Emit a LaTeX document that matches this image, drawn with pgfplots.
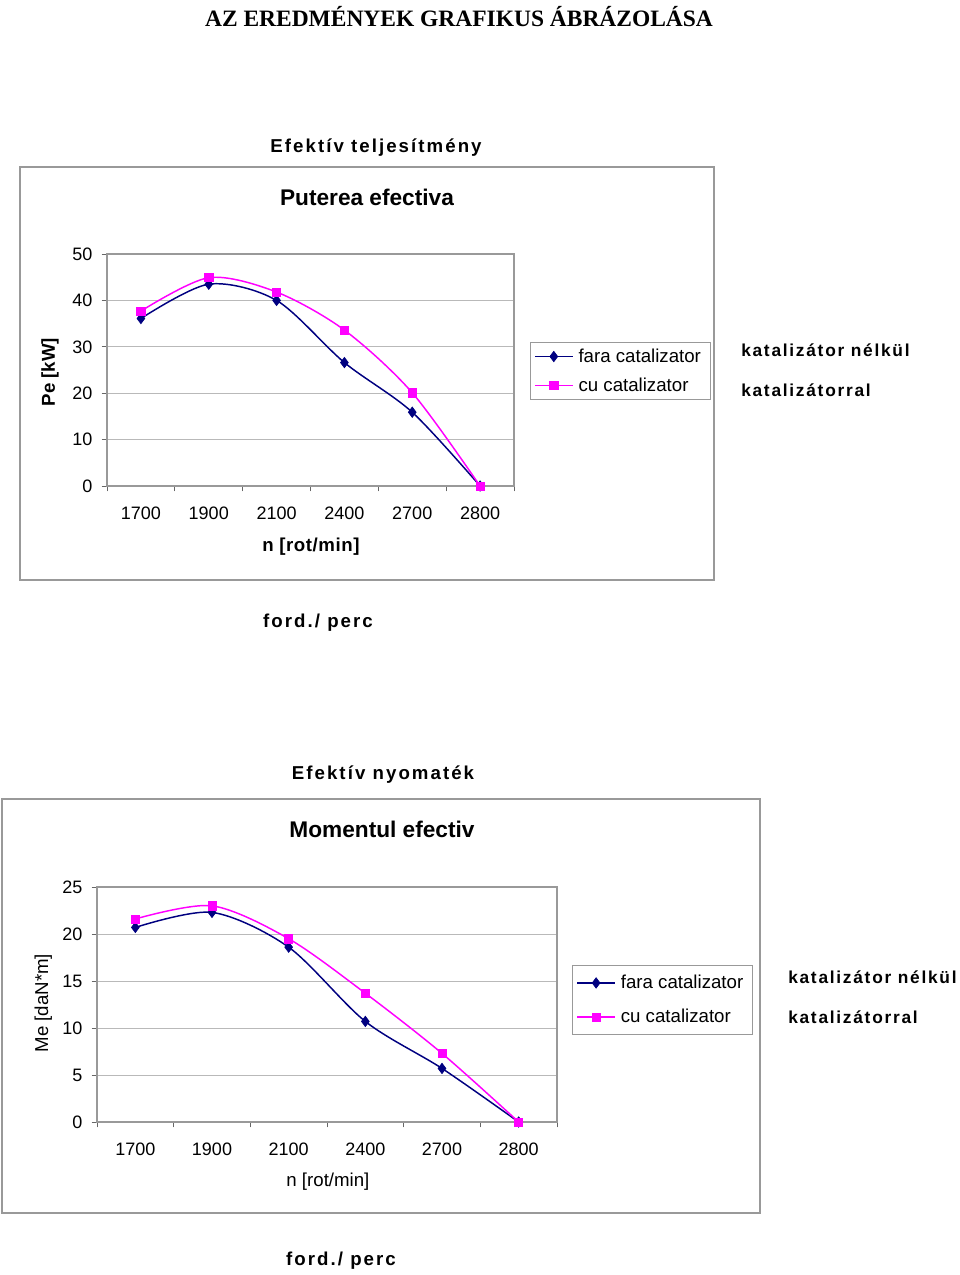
\documentclass[border=0pt]{standalone}
\usepackage{fontspec}
\setmainfont{Liberation Sans}
\newfontfamily\serif{Liberation Serif}
\newfontfamily\spaced[LetterSpace=11]{Liberation Sans}
\newfontfamily\spacedk[LetterSpace=10]{Liberation Sans}
\newfontfamily\spacedl[LetterSpace=3]{Liberation Sans}
\usepackage{pgfplots}
\pgfplotsset{compat=1.18}
\definecolor{navy}{HTML}{000080}
\definecolor{mag}{HTML}{FF00FF}
\pgfplotsset{
  mychart/.style={
    scale only axis,
    xmin=0.5, xmax=6.5, ymin=0,
    xtick={1,...,6},
    xticklabels={1700,1900,2100,2400,2700,2800},
    minor xtick={0.5,1.5,...,6.5},
    major x tick style={draw=none},
    xtick pos=bottom, ytick pos=left,
    tick align=outside,
    major tick length=4pt, minor tick length=4pt,
    tick style={gray!80!black, line width=0.6pt},
    axis line style={gray!80, line width=0.8pt},
    ymajorgrids, grid style={gray!55, line width=0.6pt},
    /pgf/number format/assume math mode=true,
    tick label style={font=\fontsize{13.5}{16}\selectfont},
    xticklabel style={anchor=center, yshift=-16.5pt},
    yticklabel style={xshift=-3.5pt},
    legend cell align=left,
    legend image code/.code={\draw[##1,mark repeat=2,mark phase=2] plot coordinates {(0pt,0pt)(14pt,0pt)(28pt,0pt)};},
    legend style={draw=gray!80, line width=0.8pt, font=\fontsize{14}{17}\selectfont, inner sep=3pt, anchor=west,
      nodes={inner xsep=4pt}},
  },
  s1/.style={navy, line width=1.1pt, smooth, mark=diamond*, mark size=3.9pt, mark options={fill=navy, draw=navy, line width=0.5pt}},
  s2/.style={mag, line width=1.1pt, smooth, mark=square*, mark size=3.1pt, mark options={fill=mag, draw=mag, line width=0.5pt}},
}
\begin{document}
\begin{tikzpicture}[x=0.75pt,y=-0.75pt]
\path (0,0) rectangle (960,1275);
\node at (459,17) {\serif\bfseries\fontsize{17.6}{20}\selectfont AZ EREDMÉNYEK GRAFIKUS ÁBRÁZOLÁSA};
% ---------- chart 1
\node at (376,148) {\spaced\bfseries\fontsize{14}{17}\selectfont Efektív teljesítmény};
\draw[gray!80, line width=0.9pt] (20,167) rectangle (714,580);
\node at (367,197) {\bfseries\fontsize{17}{20}\selectfont Puterea efectiva};
\begin{axis}[mychart,
  at={(80.25pt,-364.5pt)}, anchor=south west,
  width=305.25pt, height=174pt,
  ymax=50, ytick={0,10,...,50},
  xlabel={\spacedl\bfseries n [rot/min]}, ylabel={\bfseries Pe [kW]},
  label style={font=\fontsize{14}{17}\selectfont},
  xlabel style={at={(axis description cs:0.501,-0.263)}, anchor=center},
  ylabel style={at={(axis description cs:-0.14,0.491)}, anchor=center},
  legend style={at={(1.039,0.496)}, row sep=6pt},
]
\addplot[s1] coordinates {(1,36.1) (2,43.5) (3,40.0) (4,26.6) (5,15.9) (6,0)};
\addplot[s2] coordinates {(1,37.7) (2,44.9) (3,41.8) (4,33.6) (5,20.1) (6,0)};
\legend{fara catalizator, cu catalizator}
\end{axis}
\node[anchor=west, inner sep=0pt] at (741,350) {\spacedk\bfseries\fontsize{13}{16}\selectfont katalizátor nélkül};
\node[anchor=west, inner sep=0pt] at (741,390) {\spacedk\bfseries\fontsize{13}{16}\selectfont katalizátorral};
\node at (318,623) {\spaced\bfseries\fontsize{14}{17}\selectfont ford./ perc};
% ---------- chart 2
\node at (383,775) {\spaced\bfseries\fontsize{14}{17}\selectfont Efektív nyomaték};
\draw[gray!80, line width=0.9pt] (2,799) rectangle (760,1213);
\node at (382,829) {\bfseries\fontsize{17}{20}\selectfont Momentul efectiv};
\begin{axis}[mychart,
  at={(72.75pt,-841.5pt)}, anchor=south west,
  width=345pt, height=176.25pt,
  ymax=25, ytick={0,5,...,25},
  xlabel={n [rot/min]}, ylabel={Me [daN*m]},
  label style={font=\fontsize{14}{17}\selectfont},
  xlabel style={at={(axis description cs:0.502,-0.255)}, anchor=center},
  ylabel style={at={(axis description cs:-0.117,0.506)}, anchor=center},
  legend style={at={(1.033,0.519)}, row sep=10pt, inner ysep=5pt},
]
\addplot[s1] coordinates {(1,20.7) (2,22.3) (3,18.6) (4,10.7) (5,5.7) (6,0)};
\addplot[s2] coordinates {(1,21.6) (2,23.0) (3,19.5) (4,13.7) (5,7.3) (6,0)};
\legend{fara catalizator, cu catalizator}
\end{axis}
\node[anchor=west, inner sep=0pt] at (788,977) {\spacedk\bfseries\fontsize{13}{16}\selectfont katalizátor nélkül};
\node[anchor=west, inner sep=0pt] at (788,1017) {\spacedk\bfseries\fontsize{13}{16}\selectfont katalizátorral};
\node at (341,1261) {\spaced\bfseries\fontsize{14}{17}\selectfont ford./ perc};
\end{tikzpicture}
\end{document}
